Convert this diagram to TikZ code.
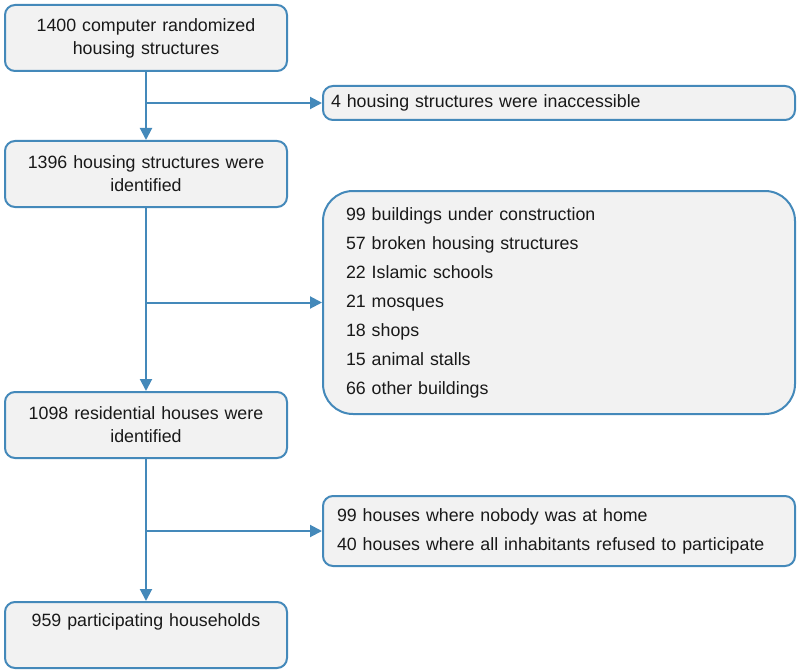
\documentclass[tikz,border=0pt]{standalone}
\usepackage{fontspec}
\setmainfont{Liberation Sans}
\usetikzlibrary{positioning,arrows.meta}
\definecolor{FlowBlue}{RGB}{68,137,186}
\definecolor{BoxFill}{RGB}{242,242,242}

\begin{document}
\begin{tikzpicture}[
        x=1pt,y=-1pt,
        %Environment config
        font=\fontsize{17.8}{23}\selectfont,
        text=black!90,
        line width=2pt,
        %Environment styles
        StepCfg/.style={
            draw=FlowBlue, fill=BoxFill,
            rounded corners=10pt,
            anchor=north west, align=center,
            text width=282pt, inner xsep=0pt,
            minimum height=66pt
        },
        ExclCfg/.style={
            draw=FlowBlue, fill=BoxFill,
            rounded corners=10pt,
            anchor=north west, align=left,
            font=\fontsize{17.8}{29}\selectfont
        },
        FlowArrow/.style={
            draw=FlowBlue,
            -{Triangle[length=12pt,width=12pt]}
        }
    ]
    \useasboundingbox (0,0) rectangle (797,671);

    %main steps
    \path
        (4,4) node[StepCfg](rand){1400 computer randomized\\housing structures}
        (4,140) node[StepCfg](ident){1396 housing structures were\\identified}
        (4,391) node[StepCfg](resid){1098 residential houses were\\identified}
        (4,601) node[StepCfg](part){959 participating households\\\strut};

    %excluded
    \path
        (322,85) node[ExclCfg, text width=456pt, inner xsep=8pt,
            minimum height=34pt](inacc){4 housing structures were inaccessible}
        (322,190) node[ExclCfg, text width=426pt, inner xsep=23pt,
            minimum height=223pt, rounded corners=30pt](other){%
            99 buildings under construction\\
            57 broken housing structures\\
            22 Islamic schools\\
            21 mosques\\
            18 shops\\
            15 animal stalls\\
            66 other buildings}
        (322,495) node[ExclCfg, text width=444pt, inner xsep=14pt,
            minimum height=70pt](absent){%
            99 houses where nobody was at home\\
            40 houses where all inhabitants refused to participate};

    \draw[FlowArrow] (rand) -- (ident);
    \draw[FlowArrow] (ident) -- (resid);
    \draw[FlowArrow] (resid) -- (part);
    \draw[FlowArrow] (rand.south |- inacc.west) -- (inacc.west);
    \draw[FlowArrow] (ident.south |- other.west) -- (other.west);
    \draw[FlowArrow] (resid.south |- absent.west) -- (absent.west);
\end{tikzpicture}
\end{document}
